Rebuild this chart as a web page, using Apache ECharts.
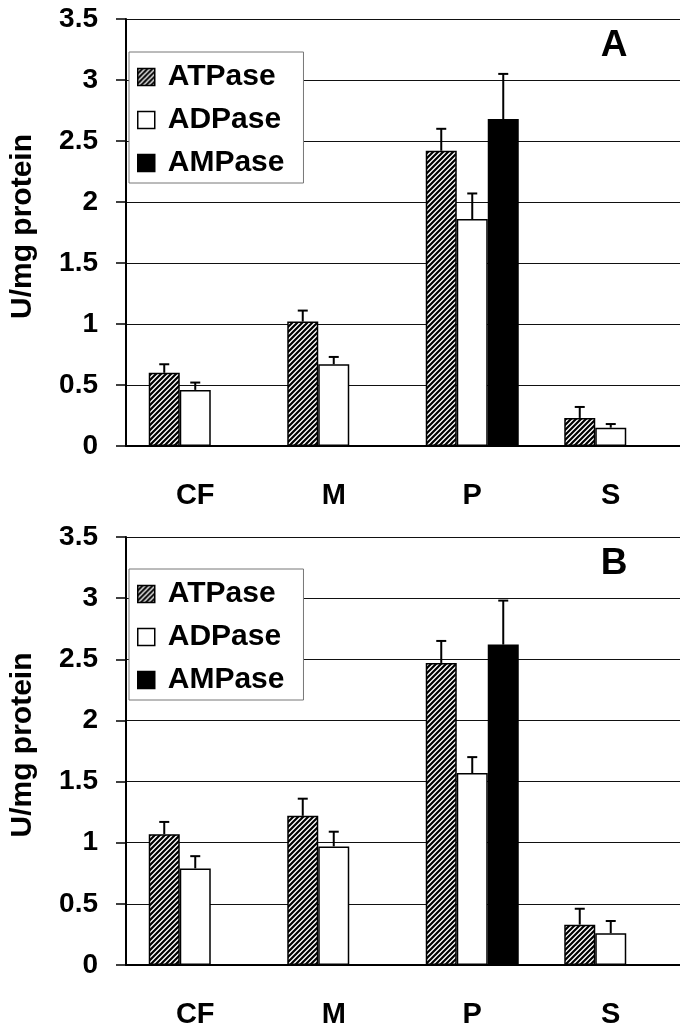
<!DOCTYPE html>
<html><head><meta charset="utf-8">
<script src="https://cdn.jsdelivr.net/npm/echarts@6/dist/echarts.min.js"></script>
<style>html,body{margin:0;padding:0;background:#fff}#c{width:680px;height:1032px}</style>
</head><body><div id="c"></div>
<script>
// ---- data ----
const categories = ['CF', 'M', 'P', 'S'];
const seriesNames = ['ATPase', 'ADPase', 'AMPase'];
const yTicks = [0, 0.5, 1, 1.5, 2, 2.5, 3, 3.5];
const panelLabels = ['A', 'B'];
const yTitle = 'U/mg protein';
// Panel A
const atpA = [0.60, 1.02, 2.42, 0.23];
const atpAErr = [0.07, 0.09, 0.18, 0.09];
const adpA = [0.46, 0.67, 1.86, 0.15];
const adpAErr = [0.06, 0.06, 0.21, 0.03];
const ampA = [null, null, 2.68, null];
const ampAErr = [null, null, 0.37, null];
// Panel B
const atpB = [1.07, 1.22, 2.47, 0.33];
const atpBErr = [0.10, 0.14, 0.18, 0.13];
const adpB = [0.79, 0.97, 1.57, 0.26];
const adpBErr = [0.10, 0.12, 0.13, 0.10];
const ampB = [null, null, 2.62, null];
const ampBErr = [null, null, 0.36, null];

// ---- styling ----
const FONT = '"Liberation Sans", Arial, sans-serif';
const BAR_W = 31;
function hatch() {
  const c = document.createElement('canvas'); c.width = 5; c.height = 5;
  const g = c.getContext('2d');
  g.fillStyle = '#fff'; g.fillRect(0, 0, 5, 5);
  g.strokeStyle = '#000'; g.lineWidth = 2.2; g.lineCap = 'square';
  g.beginPath();
  g.moveTo(-1, 6); g.lineTo(6, -1);
  g.moveTo(-1, 1); g.lineTo(1, -1);
  g.moveTo(4, 6); g.lineTo(6, 4);
  g.stroke();
  return c;
}
const hatchFill = { image: hatch(), repeat: 'repeat' };
const fills = [hatchFill, '#ffffff', '#000000'];

const panels = [
  { top: 19, height: 427, vals: [atpA, adpA, ampA], errs: [atpAErr, adpAErr, ampAErr], legendTop: 52 },
  { top: 537, height: 428, vals: [atpB, adpB, ampB], errs: [atpBErr, adpBErr, ampBErr], legendTop: 569 }
];

const grid = [], xAxis = [], yAxis = [], series = [], legend = [], graphic = [];
panels.forEach((p, gi) => {
  grid.push({ left: 126, top: p.top, width: 560, height: p.height });
  xAxis.push({
    type: 'category', gridIndex: gi, data: categories,
    axisLine: { lineStyle: { color: '#000', width: 2 } },
    axisTick: { length: 10, lineStyle: { color: '#000', width: 1.5 } },
    axisLabel: { color: '#000', fontFamily: FONT, fontWeight: 'bold', fontSize: 29, margin: 35 }
  });
  yAxis.push({
    type: 'value', gridIndex: gi, min: 0, max: 3.5, interval: 0.5,
    axisLine: { show: true, lineStyle: { color: '#000', width: 2 } },
    axisTick: { show: true, length: 10, lineStyle: { color: '#000', width: 1.5 } },
    splitLine: { lineStyle: { color: '#111', width: 1 } },
    axisLabel: { color: '#000', fontFamily: FONT, fontWeight: 'bold', fontSize: 28, margin: 28,
      formatter: v => (yTicks.indexOf(v) >= 0 ? String(v) : '') }
  });
  seriesNames.forEach((name, si) => {
    series.push({
      type: 'bar', name, xAxisIndex: gi, yAxisIndex: gi, data: p.vals[si],
      barWidth: BAR_W, barGap: '0%',
      itemStyle: { color: fills[si], borderColor: '#000', borderWidth: 1.5 },
      silent: true
    });
  });
  seriesNames.forEach((name, si) => {
    const data = [];
    p.vals[si].forEach((v, i) => { if (v != null) data.push([i, v, v + p.errs[si][i]]); });
    series.push({
      type: 'custom', xAxisIndex: gi, yAxisIndex: gi, z: 5, silent: true,
      data, encode: { x: 0, y: [1, 2] },
      renderItem(params, api) {
        const c = api.value(0);
        const lo = api.coord([c, api.value(1)]);
        const hi = api.coord([c, api.value(2)]);
        const x = lo[0] + (si - 1) * BAR_W;
        return { type: 'group', children: [
          { type: 'line', shape: { x1: x, y1: lo[1], x2: x, y2: hi[1] }, style: { stroke: '#000', lineWidth: 2 } },
          { type: 'line', shape: { x1: x - 5, y1: hi[1], x2: x + 5, y2: hi[1] }, style: { stroke: '#000', lineWidth: 2 } }
        ] };
      }
    });
  });
  legend.push({
    orient: 'vertical', left: 129, top: p.legendTop, data: seriesNames,
    icon: 'rect', itemWidth: 17, itemHeight: 17, itemGap: 13,
    padding: [10, 19, 5, 8],
    backgroundColor: '#fff', borderColor: '#777', borderWidth: 1,
    selectedMode: false,
    itemStyle: { borderColor: '#000', borderWidth: 1.5 },
    textStyle: { color: '#000', fontFamily: FONT, fontWeight: 'bold', fontSize: 30, lineHeight: 30, padding: [0, 0, 0, 8] }
  });
  graphic.push({
    type: 'text', x: 614, y: p.top + 27, style: { text: panelLabels[gi], fill: '#000', font: 'bold 37px ' + FONT, textAlign: 'center', textVerticalAlign: 'middle' }
  });
  graphic.push({
    type: 'text', x: 23, y: p.top + p.height / 2 - 6, rotation: Math.PI / 2,
    style: { text: yTitle, fill: '#000', font: 'bold 30px ' + FONT, textAlign: 'center', textVerticalAlign: 'middle' }
  });
});

const chart = echarts.init(document.getElementById('c'), null, { renderer: 'canvas' });
chart.setOption({ animation: false, backgroundColor: '#fff', grid, xAxis, yAxis, series, legend, graphic });
</script></body></html>
